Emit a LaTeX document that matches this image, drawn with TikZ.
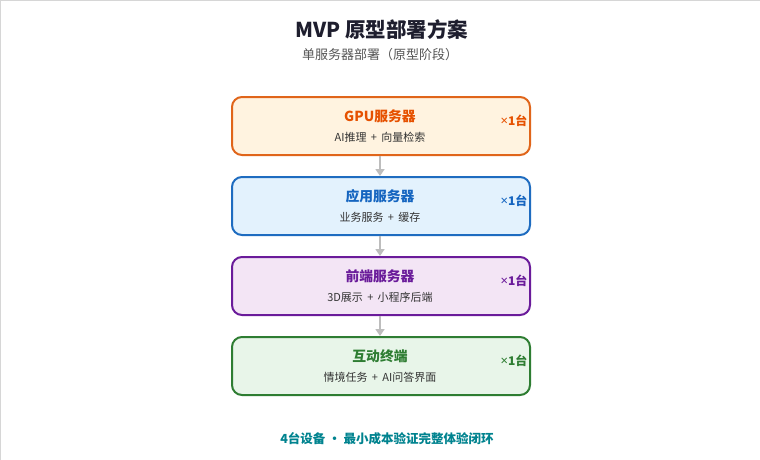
\documentclass[tikz,border=0pt]{standalone}
\usepackage{fontspec}
\setmainfont{Noto Sans CJK SC}
\newfontfamily\latf{Noto Sans}
\usetikzlibrary{arrows.meta}
\definecolor{titlec}{HTML}{1E1E2E}
\definecolor{subc}{HTML}{555555}
\definecolor{descc}{HTML}{333333}
\definecolor{orgB}{HTML}{E0651A}
\definecolor{orgF}{HTML}{FFF3E0}
\definecolor{orgT}{HTML}{E65100}
\definecolor{bluB}{HTML}{1E6CC0}
\definecolor{bluF}{HTML}{E3F2FD}
\definecolor{bluT}{HTML}{1565C0}
\definecolor{purB}{HTML}{6A1B9A}
\definecolor{purF}{HTML}{F3E5F5}
\definecolor{purT}{HTML}{6A1B9A}
\definecolor{grnB}{HTML}{2E7D32}
\definecolor{grnF}{HTML}{E8F5E9}
\definecolor{grnT}{HTML}{2E7D32}
\definecolor{footc}{HTML}{00838F}
\definecolor{arrc}{HTML}{BDBDBD}
\definecolor{framec}{HTML}{D6D6D6}
\tikzset{
  srvbox/.style={draw=#1, line width=2pt, rounded corners=10pt, minimum width=298pt, minimum height=58pt, inner sep=0pt},
  boxtitle/.style={font=\fontsize{13.8}{16}\selectfont\bfseries, text=#1},
  boxdesc/.style={font=\fontsize{11}{13}\selectfont, text=descc},
  countlbl/.style={font=\fontsize{12}{14}\selectfont\bfseries, text=#1},
  flow/.style={draw=arrc, line width=1.8pt, -{Triangle[width=9pt,length=7pt]}}
}
\newcommand{\timesx}{{\latf\bfseries\fontsize{13}{14}\selectfont ×}}
\begin{document}
\begin{tikzpicture}[x=1pt,y=-1pt]
\useasboundingbox (0,0) rectangle (760,460);
\fill[white] (0,0) rectangle (760,460);
\draw[framec, line width=1pt] (0.5,460) -- (0.5,0.5) -- (760,0.5);
\node[font=\fontsize{20.5}{23}\selectfont\bfseries, text=titlec] (title) at (382,30) {MVP 原型部署方案};
\node[font=\fontsize{13}{15}\selectfont, text=subc] (sub) at (380,55) {单服务器部署（原型阶段）};

\node[srvbox=orgB, fill=orgF] (b1) at (381,126) {};
\node[boxtitle=orgT] (b1t) at (380,116) {GPU服务器};
\node[boxdesc] (b1d) at (380,137) {AI推理 \,+\, 向量检索};
\node[countlbl=orgT] (b1c) at (514,121) {\timesx1台};

\node[srvbox=bluB, fill=bluF] (b2) at (381,206) {};
\node[boxtitle=bluT] (b2t) at (380,196) {应用服务器};
\node[boxdesc] (b2d) at (380,217) {业务服务 \,+\, 缓存};
\node[countlbl=bluT] (b2c) at (514,201) {\timesx1台};

\node[srvbox=purB, fill=purF] (b3) at (381,286) {};
\node[boxtitle=purT] (b3t) at (380,276) {前端服务器};
\node[boxdesc] (b3d) at (380,297) {3D展示 \,+\, 小程序后端};
\node[countlbl=purT] (b3c) at (514,281) {\timesx1台};

\node[srvbox=grnB, fill=grnF] (b4) at (381,366) {};
\node[boxtitle=grnT] (b4t) at (380,356) {互动终端};
\node[boxdesc] (b4d) at (380,377) {情境任务 \,+\, AI问答界面};
\node[countlbl=grnT] (b4c) at (514,361) {\timesx1台};

\draw[flow] (b1.south -| 380,0) -- (b2.north -| 380,0);
\draw[flow] (b2.south -| 380,0) -- (b3.north -| 380,0);
\draw[flow] (b3.south -| 380,0) -- (b4.north -| 380,0);

\node[font=\fontsize{12.5}{14}\selectfont\bfseries, text=footc] (foot) at (387,439) {4台设备 · 最小成本验证完整体验闭环};
\end{tikzpicture}
\end{document}
